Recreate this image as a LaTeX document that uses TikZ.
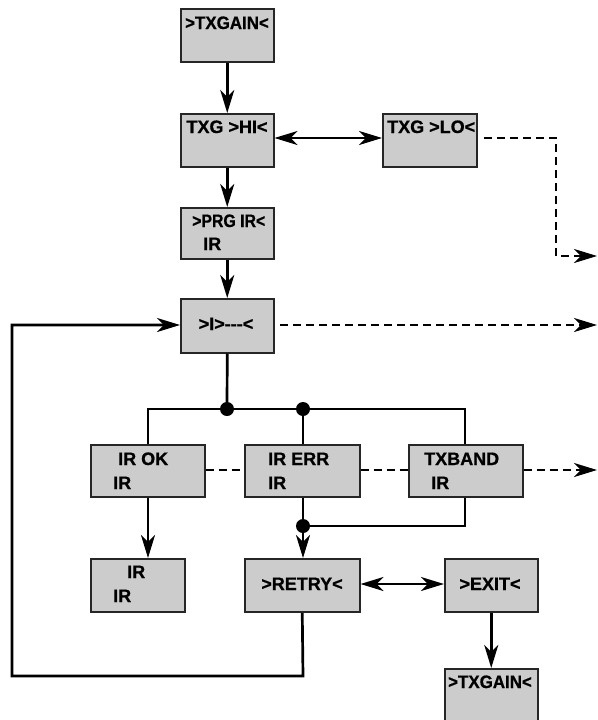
\documentclass[tikz,border=0pt]{standalone}
\usepackage{fontspec}
\setmainfont{Liberation Sans}[BoldFeatures={FakeBold=0.8}]
\usetikzlibrary{arrows.meta}
\begin{document}
\begin{tikzpicture}[x=1pt,y=-1pt,
  box/.style={draw=black!85,line width=1.5pt,fill=black!20,inner sep=0pt,anchor=north west},
  txt/.style={inner sep=0pt,font=\fontsize{18}{20}\selectfont\bfseries},
  conn/.style={line width=2.7pt,line join=miter},
  dconn/.style={line width=2.7pt,dash pattern=on 8pt off 5pt},
  tip/.style={-{Stealth[length=23pt,width=14pt,inset=7pt]}},
  tips/.style={{Stealth[length=23pt,width=14pt,inset=7pt]}-{Stealth[length=23pt,width=14pt,inset=7pt]}},
  dot/.style={circle,fill=black,inner sep=0pt,minimum size=14pt}]
\useasboundingbox (0,0) rectangle (597,720);
% boxes
\node[box,minimum width=93pt,minimum height=53pt] (b1) at (180,8) {};
\node[box,minimum width=93pt,minimum height=53pt] (hi) at (180,113) {};
\node[box,minimum width=94pt,minimum height=53pt] (lo) at (382,113) {};
\node[box,minimum width=93pt,minimum height=51pt] (prg) at (180,207) {};
\node[box,minimum width=93pt,minimum height=54pt] (ids) at (180,298) {};
\node[box,minimum width=114pt,minimum height=52pt] (ok) at (90,444) {};
\node[box,minimum width=115pt,minimum height=52pt] (err) at (244,444) {};
\node[box,minimum width=114pt,minimum height=52pt] (band) at (408,444) {};
\node[box,minimum width=94pt,minimum height=53pt] (irir) at (90,558) {};
\node[box,minimum width=115pt,minimum height=53pt] (retry) at (244,558) {};
\node[box,minimum width=93pt,minimum height=53pt] (exit) at (444,558) {};
\node[box,minimum width=93pt,minimum height=56pt] (b2) at (444,668) {};
% texts
\node[txt,anchor=base] (tb1) at (227,29) {\scalebox{0.94}[1]{>TXGAIN<}};
\node[txt,anchor=base] (thi) at (227,133) {TXG >HI<};
\node[txt,anchor=base west] (tlo) at (387,133) {TXG >LO<};
\node[txt,anchor=base west] (tprg1) at (192,227) {\scalebox{0.88}[1]{>PRG IR<}};
\node[txt,anchor=base west] (tprg2) at (203,250) {IR};
\node[txt,anchor=base] (tids) at (226,330) {>I>{-}{-}{-}<};
\node[txt,anchor=base west] (tok1) at (118,465) {IR OK};
\node[txt,anchor=base west] (tok2) at (113,489) {IR};
\node[txt,anchor=base west] (terr1) at (268,465) {IR ERR};
\node[txt,anchor=base west] (terr2) at (268,489) {IR};
\node[txt,anchor=base west] (tband1) at (424,465) {TXBAND};
\node[txt,anchor=base west] (tband2) at (431,489) {IR};
\node[txt,anchor=base west] (tir1) at (127,578) {IR};
\node[txt,anchor=base west] (tir2) at (113,602) {IR};
\node[txt,anchor=base] (tretry) at (302,590) {>RETRY<};
\node[txt,anchor=base] (texit) at (490,590) {>EXIT<};
\node[txt,anchor=base] (tb2) at (490,688) {\scalebox{0.94}[1]{>TXGAIN<}};
% coordinates
\coordinate (loA) at (484,138);
\coordinate (loB) at (556,138);
\coordinate (loC) at (556,256);
\coordinate (outA) at (597,256);
\coordinate (idsA) at (280,325);
\coordinate (outB) at (597,325);
\coordinate (outC) at (597,470);
\coordinate (brL) at (148,409);
\coordinate (brR) at (465,409);
\coordinate (bandC) at (465,526);
\coordinate (lp1) at (303,676);
\coordinate (lp2) at (12,676);
\coordinate (lp3) at (12,325);
% connectors
\draw[conn,tip] (b1.south) -- (hi.north);
\draw[conn,tips] (hi.east |- 0,138) -- (lo.west |- 0,138);
\draw[dconn,tip] (loA) -- (loB) -- (loC) -- (outA);
\draw[conn,tip] (hi.south) -- (prg.north);
\draw[conn,tip] (prg.south) -- (ids.north);
\draw[dconn,tip] (idsA) -- (outB);
\draw[conn] (ids.south) -- (227,409);
\draw[conn] (ok.north -| brL) -- (brL) -- (brR) -- (band.north -| brR);
\draw[conn] (303,409) -- (err.north -| 303,0);
\draw[conn,tip] (ok.south -| brL) -- (irir.north -| brL);
\draw[conn] (err.south -| 303,0) -- (303,526);
\draw[conn] (band.south -| bandC) -- (bandC) -- (303,526);
\draw[conn,tip] (303,526) -- (retry.north -| 303,0);
\draw[dconn] (ok.east |- 0,470) -- (err.west |- 0,470);
\draw[dconn] (err.east |- 0,470) -- (band.west |- 0,470);
\draw[dconn,tip] (band.east |- 0,470) -- (outC);
\draw[conn,tips] (retry.east |- 0,584) -- (exit.west |- 0,584);
\draw[conn,tip] (exit.south) -- (b2.north);
\draw[conn,tip] (retry.south |- 0,613) -- (lp1) -- (lp2) -- (lp3) -- (ids.west |- lp3);
\node[dot] (d1) at (227,409) {};
\node[dot] (d2) at (303,409) {};
\node[dot] (d3) at (303,526) {};
\end{tikzpicture}
\end{document}
